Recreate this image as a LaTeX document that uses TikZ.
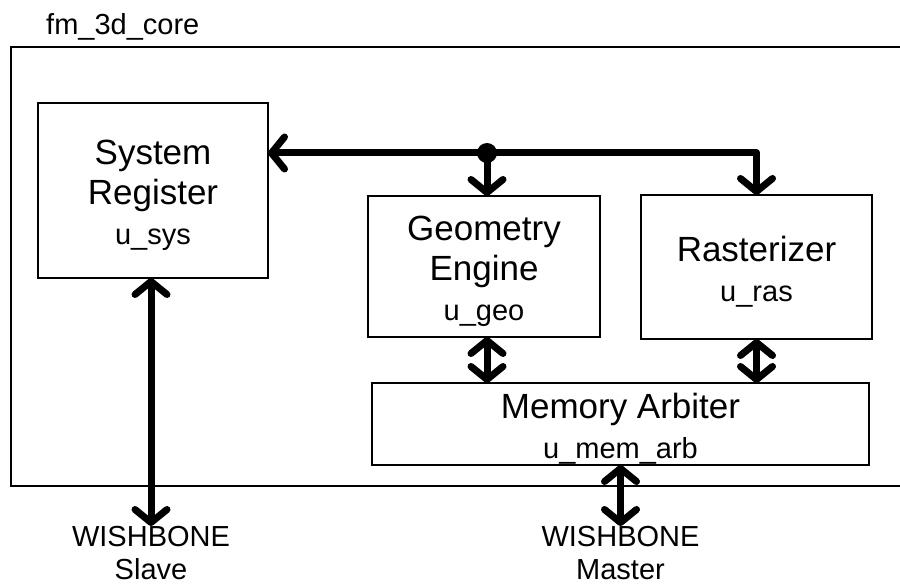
\documentclass[tikz,border=0pt]{standalone}
\usepackage{fontspec}
\setmainfont{Liberation Sans}
\usetikzlibrary{arrows.meta}
\tikzset{
  blk/.style={draw,line width=1.5pt,inner sep=0pt,outer sep=0pt},
  txt/.style={inner sep=0pt,align=center,font=\fontsize{35}{40}\selectfont},
  lbl/.style={inner sep=0pt,align=center,font=\fontsize{29}{33}\selectfont},
  bus/.style={line width=7pt,line join=round}
}
\newcommand\inst[1]{{\fontsize{29}{42}\selectfont #1}}

\begin{document}
\begin{tikzpicture}[x=1pt,y=-1pt,>={Straight Barb[length=13pt,width=32pt,round]}]
        \useasboundingbox (0,0) rectangle (900,585);
        \clip (0,0) rectangle (900,585);
        % The core frame
        \draw[line width=1.5pt] (11,47) rectangle (930,486);
        \node[lbl,anchor=base west] (core) at (46,35) {fm\_3d\_core};

        % The blocks
        \node[blk,minimum width=230pt,minimum height=175pt] (sys) at (153,190.5) {};
        \node[blk,minimum width=232pt,minimum height=141pt] (geo) at (484,266.5) {};
        \node[blk,minimum width=231pt,minimum height=144pt] (ras) at (756.5,267) {};
        \node[blk,minimum width=497pt,minimum height=82pt] (mem) at (620.5,424) {};
        \node[txt] (sys-t) at ([yshift=-5pt]sys.center) {System\\Register\\\inst{u\_sys}};
        \node[txt] (geo-t) at ([yshift=-5pt]geo.center) {Geometry\\Engine\\\inst{u\_geo}};
        \node[txt] (ras-t) at ([yshift=-5pt]ras.center) {Rasterizer\\\inst{u\_ras}};
        \node[txt] (mem-t) at ([yshift=-5pt]mem.center) {Memory Arbiter\\\inst{u\_mem\_arb}};

        % Bus ends
        \node[lbl,anchor=north] (slave) at (151,526) {WISHBONE\\Slave};
        \node[lbl,anchor=north] (master) at (620.5,526) {WISHBONE\\Master};

        % The register bus
        \coordinate (dot) at (487,153);
        \draw[bus,->] (dot) -- (dot -| sys.east);
        \draw[bus,->] (dot) -- (dot |- geo.north);
        \draw[bus,->] (dot) -- (dot -| ras.north) -- (ras.north);
        \fill (dot) circle (10pt);

        % Memory paths
        \draw[bus,<->] (dot |- geo.south) -- (dot |- mem.north);
        \draw[bus,<->] (ras.south) -- (ras.south |- mem.north);
        \draw[bus,<->] (slave.north |- sys.south) -- (slave.north);
        \draw[bus,<->] (mem.south) -- (master.north);
\end{tikzpicture}
\end{document}
